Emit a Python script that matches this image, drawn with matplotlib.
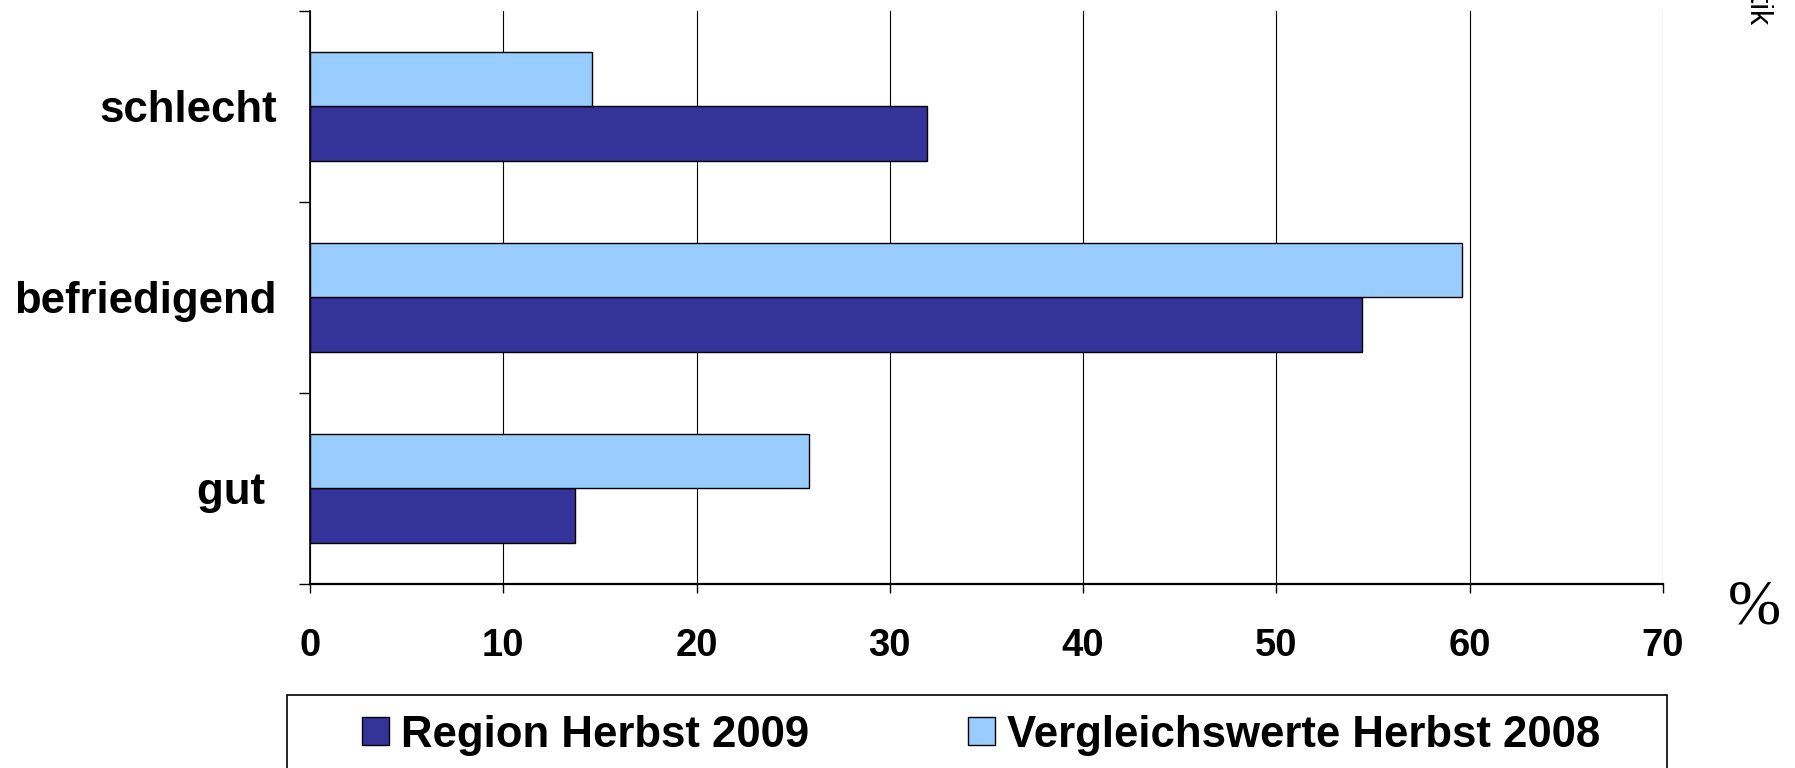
# -*- coding: utf-8 -*-
import matplotlib.pyplot as plt
from matplotlib.patches import Rectangle

# Daten
kategorien = ['gut ', 'befriedigend', 'schlecht']
region_2009 = [13.7, 54.4, 31.9]
vergleich_2008 = [25.8, 59.6, 14.6]
x_ticks = [0, 10, 20, 30, 40, 50, 60, 70]

dunkel = '#333399'
hell = '#99CCFF'

plt.rcParams['font.family'] = ['Liberation Sans', 'DejaVu Sans']

fig = plt.figure(figsize=(17.95, 7.68), dpi=100)
ax = fig.add_axes([0.1727, 0.2396, 0.7538, 0.7461])

pos = list(range(len(kategorien)))
h = 0.285
ax.barh([p - h / 2 for p in pos], region_2009, height=h, color=dunkel,
        edgecolor='black', linewidth=1.0, label='Region Herbst 2009', zorder=3)
ax.barh([p + h / 2 for p in pos], vergleich_2008, height=h, color=hell,
        edgecolor='black', linewidth=1.0, label='Vergleichswerte Herbst 2008', zorder=3)

ax.set_xlim(0, 70)
ax.set_ylim(-0.5, 2.5)
ax.set_xticks(x_ticks)
ax.set_xticklabels([str(t) for t in x_ticks], fontsize=27.5, fontweight='bold')
ax.set_yticks(pos)
ax.set_yticklabels(kategorien, fontsize=31.5, fontweight='bold')
ax.set_yticks([-0.5, 0.5, 1.5, 2.5], minor=True)
ax.tick_params(axis='y', which='major', length=0, pad=24)
ax.tick_params(axis='y', which='minor', length=8, width=1, direction='out')
ax.tick_params(axis='x', which='major', length=6.5, width=1, direction='out', pad=25)

ax.grid(True, axis='x', color='black', linewidth=0.8)
ax.set_axisbelow(True)
ax.spines['top'].set_visible(False)
ax.spines['right'].set_visible(False)
ax.spines['left'].set_linewidth(1.2)
ax.spines['bottom'].set_linewidth(1.6)

# Einheit
fig.text(1754 / 1795, 1 - 608 / 768, '%', family='Liberation Serif', fontsize=46,
         ha='center', va='center')

# abgeschnittene Quellenangabe oben rechts
fig.text(1758 / 1795, 1 - 24 / 768, 'Quelle: Statistik', fontsize=22, rotation=-90,
         ha='center', va='bottom')

# Legende (Rahmen reicht über den Bildrand hinaus)
fig.patches.append(Rectangle((287 / 1795, -0.1), 1380 / 1795, 0.1 + 1 - 695 / 768,
                             transform=fig.transFigure, fill=False,
                             edgecolor='black', linewidth=1.2))
handles, labels = ax.get_legend_handles_labels()
fig.legend(handles, labels, loc='center left', bbox_to_anchor=(362 / 1795, 1 - 735 / 768),
           ncol=2, frameon=False, borderpad=0, borderaxespad=0,
           handlelength=0.62, handleheight=0.6, handletextpad=0.28, columnspacing=3.62,
           prop={'size': 31.5, 'weight': 'bold'})

fig.savefig('out.png', dpi=100)
